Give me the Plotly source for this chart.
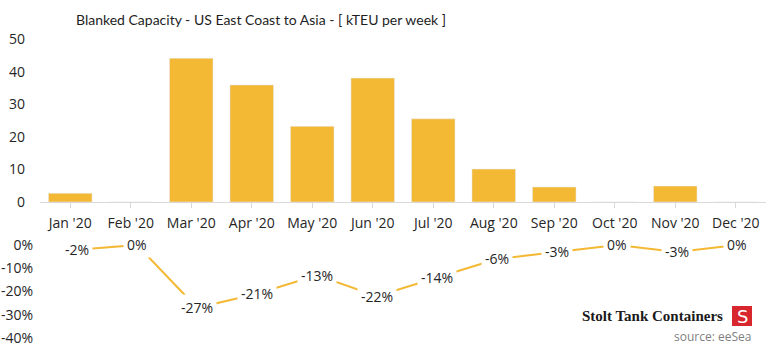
import plotly.graph_objects as go

months = ["Jan '20", "Feb '20", "Mar '20", "Apr '20", "May '20", "Jun '20",
          "Jul '20", "Aug '20", "Sep '20", "Oct '20", "Nov '20", "Dec '20"]
blanked_kteu = [2.7, 0, 44.1, 35.9, 23.2, 38.0, 25.5, 10.1, 4.6, 0, 4.9, 0]
pct_change = [-2, 0, -27, -21, -13, -22, -14, -6, -3, 0, -3, 0]
top_ticks = [0, 10, 20, 30, 40, 50]
bottom_ticks = [0, -10, -20, -30, -40]

GOLD = "#F3B834"
TXT = "#262626"
FONT = "Open Sans, Noto Sans, sans-serif"
H = 347.0

fig = go.Figure()
fig.add_trace(go.Bar(x=list(range(12)), y=blanked_kteu, marker_color=GOLD,
                     xaxis="x", yaxis="y", showlegend=False))
fig.add_trace(go.Scatter(x=list(range(12)), y=pct_change, mode="lines",
                         line=dict(color=GOLD, width=2),
                         xaxis="x2", yaxis="y2", showlegend=False))

for i, v in enumerate(pct_change):
    fig.add_annotation(x=i, y=v, xref="x2", yref="y2", text=f"{v}%",
                       showarrow=False, bgcolor="white", borderpad=3,
                       font=dict(family=FONT, size=14, color=TXT))

fig.update_layout(
    width=768, height=347,
    margin=dict(l=40, r=2, t=0, b=0, autoexpand=False),
    paper_bgcolor="white", plot_bgcolor="white",
    bargap=0.28,
    title=dict(text="Blanked Capacity - US East Coast to Asia - [ kTEU per week ]",
               x=261 / 768, xanchor="center", xref="container",
               y=1 - 20 / H, yanchor="middle", yref="container",
               font=dict(family="Lato, sans-serif", size=14, color="#1e1e1e")),
    xaxis=dict(domain=[0, 1], range=[-0.5, 11.5], tickmode="array",
               tickvals=list(range(12)), ticktext=months, tickson="boundaries",
               ticks="outside", ticklen=5, tickcolor="#d9d9d9",
               showline=True, linecolor="#d9d9d9", linewidth=1,
               showgrid=False, zeroline=False, anchor="y", automargin=False,
               ticklabelstandoff=3,
               tickfont=dict(family=FONT, size=14, color=TXT)),
    yaxis=dict(domain=[(H - 202) / H, (H - 39) / H], range=[0, 50],
               tickvals=top_ticks, showgrid=False, zeroline=False,
               ticks="", ticklabelstandoff=14, automargin=False,
               tickfont=dict(family=FONT, size=14, color=TXT)),
    xaxis2=dict(domain=[0, 1], range=[-0.617, 11.483], visible=False,
                anchor="y2", automargin=False),
    yaxis2=dict(domain=[(H - 338) / H, (H - 245) / H], range=[-40, 0],
                tickvals=bottom_ticks, ticktext=[f"{t}%" for t in bottom_ticks],
                showgrid=False, zeroline=False, ticks="", ticklabelstandoff=6,
                automargin=False,
                tickfont=dict(family=FONT, size=14, color=TXT), anchor="x2"),
)

# branding
fig.add_annotation(xref="paper", yref="paper", x=(725 - 40) / 726, y=(H - 316) / H,
                   xanchor="right", yanchor="middle", showarrow=False,
                   text="<b>Stolt Tank Containers</b>",
                   font=dict(family="Liberation Serif, Times New Roman, serif",
                             size=15, color="#1a1a1a"))
fig.add_shape(type="rect", xref="paper", yref="paper",
              x0=(732 - 40) / 726, x1=(752 - 40) / 726,
              y0=(H - 326) / H, y1=(H - 306) / H,
              fillcolor="#D7262E", line=dict(width=0))
fig.add_annotation(xref="paper", yref="paper", x=(742 - 40) / 726, y=(H - 316) / H,
                   xanchor="center", yanchor="middle", showarrow=False,
                   text="S", font=dict(family="DejaVu Sans", size=18, color="white"))
fig.add_annotation(xref="paper", yref="paper", x=(753 - 40) / 726, y=(H - 336) / H,
                   xanchor="right", yanchor="middle", showarrow=False,
                   text="source: eeSea",
                   font=dict(family=FONT, size=12, color="#7f7f7f"))

fig.write_html("out.html")
